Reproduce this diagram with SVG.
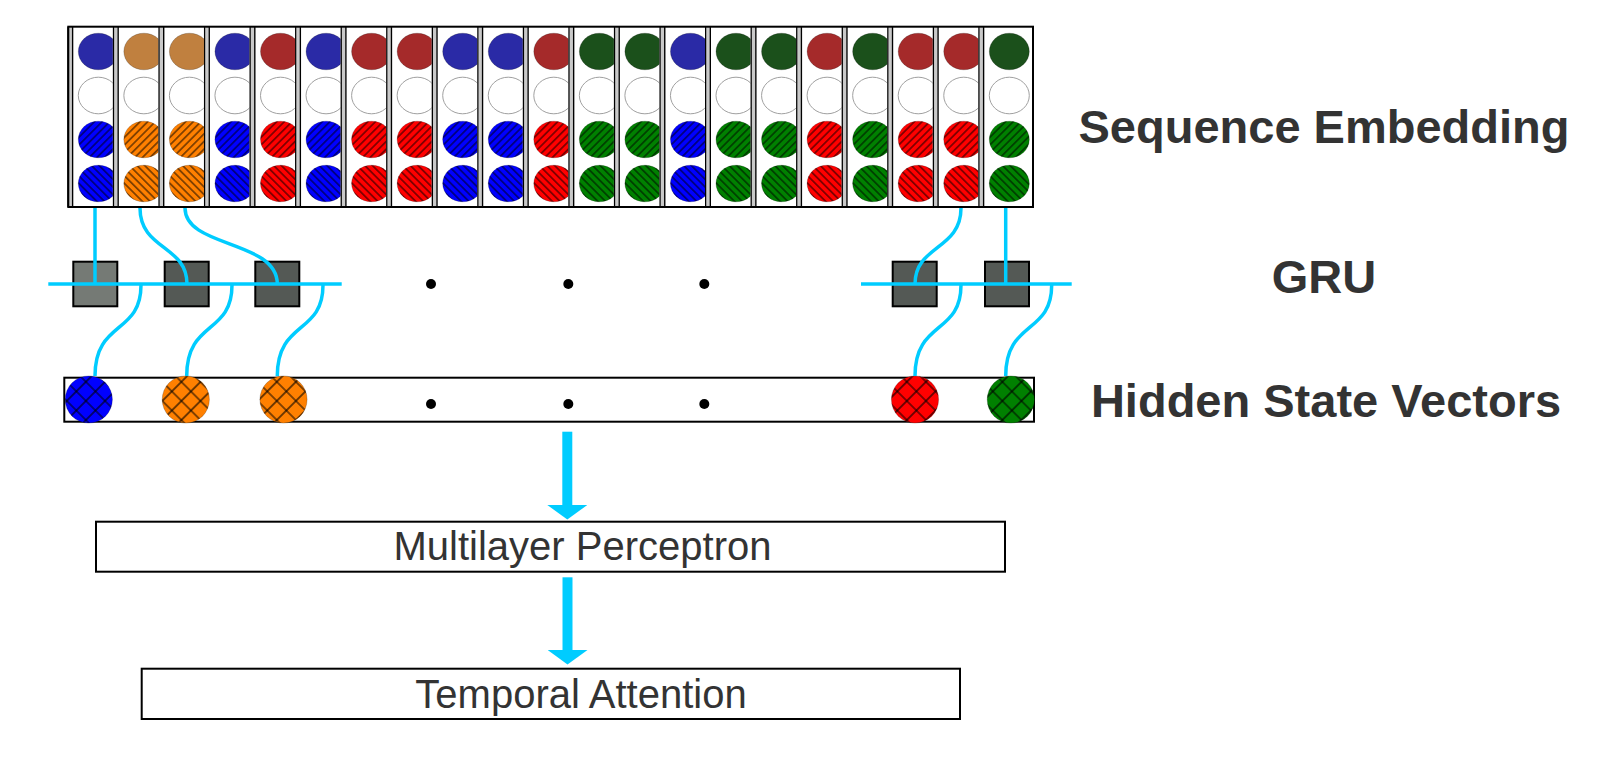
<svg xmlns="http://www.w3.org/2000/svg" xmlns:xlink="http://www.w3.org/1999/xlink" width="1601" height="771" viewBox="0 0 1601 771">
<style>
.cy{stroke:#00ccff;stroke-width:3.5;fill:none}
.ar{stroke:#00ccff;stroke-width:10;fill:none;marker-end:url(#ah)}
.box{fill:#fff;stroke:#000;stroke-width:2}
.gru{stroke:#000;stroke-width:2}
.rim{stroke:#000;stroke-opacity:.25;stroke-width:.8}
.lbl{font-family:"Liberation Sans",Arial,sans-serif;font-weight:bold;font-size:47px;fill:#333;text-anchor:middle}
.txt{font-family:"Liberation Sans",Arial,sans-serif;font-size:40px;fill:#333;text-anchor:middle}
.dot{fill:#000}
</style>
<defs>
<pattern id="hF" patternUnits="userSpaceOnUse" width="5.4" height="5.4" patternTransform="rotate(45)"><line x1="2.7" y1="0" x2="2.7" y2="5.4" stroke="#000" stroke-width="0.9"/></pattern>
<pattern id="hB" patternUnits="userSpaceOnUse" width="5.4" height="5.4" patternTransform="rotate(-45)"><line x1="2.7" y1="0" x2="2.7" y2="5.4" stroke="#000" stroke-width="0.9"/></pattern>
<pattern id="hX" patternUnits="userSpaceOnUse" width="13.5" height="13.5" patternTransform="rotate(45)"><path d="M6.75 0V13.5M0 6.75H13.5" stroke="#000" stroke-width="1.1"/></pattern>
<marker id="ah" viewBox="0 0 14.5 40" refX="0" refY="20" markerWidth="14.5" markerHeight="40" markerUnits="userSpaceOnUse" orient="auto"><polygon points="0,0 14.5,20 0,40" fill="#00ccff"/></marker>
<g id="base">
<rect x="0" y="26.7" width="56" height="180.3" fill="#fff"/>
<rect x="1.3" y="26.7" width="3.3" height="180.3" fill="#c9c9c9"/>
<line x1="0.65" y1="26.7" x2="0.65" y2="207" stroke="#000" stroke-width="1.3"/>
<line x1="5.3" y1="26.7" x2="5.3" y2="207" stroke="#000" stroke-width="1.4"/>
<ellipse cx="31" cy="95.5" rx="20" ry="18.3" fill="#fff" stroke="#a0a0a0" stroke-width="1"/>
</g>
<g id="hat">
<ellipse cx="31" cy="139.5" rx="20" ry="18.3" fill="url(#hF)"/>
<ellipse cx="31" cy="183.5" rx="20" ry="18.3" fill="url(#hB)"/>
</g>
<g id="cB"><use xlink:href="#base"/><ellipse class="rim" cx="31" cy="51.5" rx="20" ry="18.3" fill="#2a2aa6"/><ellipse class="rim" cx="31" cy="139.5" rx="20" ry="18.3" fill="#0000ff"/><ellipse class="rim" cx="31" cy="183.5" rx="20" ry="18.3" fill="#0000ff"/><use xlink:href="#hat"/></g>
<g id="cO"><use xlink:href="#base"/><ellipse class="rim" cx="31" cy="51.5" rx="20" ry="18.3" fill="#c0803f"/><ellipse class="rim" cx="31" cy="139.5" rx="20" ry="18.3" fill="#ff8000"/><ellipse class="rim" cx="31" cy="183.5" rx="20" ry="18.3" fill="#ff8000"/><use xlink:href="#hat"/></g>
<g id="cR"><use xlink:href="#base"/><ellipse class="rim" cx="31" cy="51.5" rx="20" ry="18.3" fill="#a52a2a"/><ellipse class="rim" cx="31" cy="139.5" rx="20" ry="18.3" fill="#ff0000"/><ellipse class="rim" cx="31" cy="183.5" rx="20" ry="18.3" fill="#ff0000"/><use xlink:href="#hat"/></g>
<g id="cG"><use xlink:href="#base"/><ellipse class="rim" cx="31" cy="51.5" rx="20" ry="18.3" fill="#1b501b"/><ellipse class="rim" cx="31" cy="139.5" rx="20" ry="18.3" fill="#008000"/><ellipse class="rim" cx="31" cy="183.5" rx="20" ry="18.3" fill="#008000"/><use xlink:href="#hat"/></g>
</defs>
<rect width="1601" height="771" fill="#fff"/>

<g id="sequence-embedding">
<g id="emb-0" transform="translate(67.3,0)"><use xlink:href="#cB"/></g>
<g id="emb-1" transform="translate(112.85,0)"><use xlink:href="#cO"/></g>
<g id="emb-2" transform="translate(158.4,0)"><use xlink:href="#cO"/></g>
<g id="emb-3" transform="translate(203.95,0)"><use xlink:href="#cB"/></g>
<g id="emb-4" transform="translate(249.5,0)"><use xlink:href="#cR"/></g>
<g id="emb-5" transform="translate(295.05,0)"><use xlink:href="#cB"/></g>
<g id="emb-6" transform="translate(340.6,0)"><use xlink:href="#cR"/></g>
<g id="emb-7" transform="translate(386.15,0)"><use xlink:href="#cR"/></g>
<g id="emb-8" transform="translate(431.7,0)"><use xlink:href="#cB"/></g>
<g id="emb-9" transform="translate(477.25,0)"><use xlink:href="#cB"/></g>
<g id="emb-10" transform="translate(522.8,0)"><use xlink:href="#cR"/></g>
<g id="emb-11" transform="translate(568.35,0)"><use xlink:href="#cG"/></g>
<g id="emb-12" transform="translate(613.9,0)"><use xlink:href="#cG"/></g>
<g id="emb-13" transform="translate(659.45,0)"><use xlink:href="#cB"/></g>
<g id="emb-14" transform="translate(705,0)"><use xlink:href="#cG"/></g>
<g id="emb-15" transform="translate(750.55,0)"><use xlink:href="#cG"/></g>
<g id="emb-16" transform="translate(796.1,0)"><use xlink:href="#cR"/></g>
<g id="emb-17" transform="translate(841.65,0)"><use xlink:href="#cG"/></g>
<g id="emb-18" transform="translate(887.2,0)"><use xlink:href="#cR"/></g>
<g id="emb-19" transform="translate(932.75,0)"><use xlink:href="#cR"/></g>
<g id="emb-20" transform="translate(978.3,0)"><use xlink:href="#cG"/></g>
<rect x="68.3" y="26.7" width="964.7" height="180.3" fill="none" stroke="#000" stroke-width="2"/>
</g>

<g id="gru-cells">
<rect id="gru-1" class="gru" x="73.3" y="261.7" width="44" height="44.6" fill="#757a75"/>
<rect id="gru-2" class="gru" x="164.7" y="261.7" width="44" height="44.6" fill="#545955"/>
<rect id="gru-3" class="gru" x="255.3" y="261.7" width="44" height="44.6" fill="#545955"/>
<rect id="gru-4" class="gru" x="892.7" y="261.7" width="44" height="44.6" fill="#545955"/>
<rect id="gru-5" class="gru" x="985" y="261.7" width="44" height="44.6" fill="#545955"/>
<circle class="dot" cx="431" cy="284" r="5"/>
<circle class="dot" cx="568.3" cy="284" r="5"/>
<circle class="dot" cx="704.3" cy="284" r="5"/>
</g>

<g id="hidden-states">
<rect class="box" x="64.3" y="377.7" width="969.7" height="44"/>
<g id="h-1"><circle class="rim" cx="88.8" cy="399.5" r="23.6" fill="#0000ff"/><circle cx="88.8" cy="399.5" r="23.6" fill="url(#hX)"/></g>
<g id="h-2"><circle class="rim" cx="185.8" cy="399.5" r="23.6" fill="#ff8000"/><circle cx="185.8" cy="399.5" r="23.6" fill="url(#hX)"/></g>
<g id="h-3"><circle class="rim" cx="283.5" cy="399.5" r="23.6" fill="#ff8000"/><circle cx="283.5" cy="399.5" r="23.6" fill="url(#hX)"/></g>
<g id="h-4"><circle class="rim" cx="915" cy="399.5" r="23.6" fill="#ff0000"/><circle cx="915" cy="399.5" r="23.6" fill="url(#hX)"/></g>
<g id="h-5"><circle class="rim" cx="1010.8" cy="399.5" r="23.6" fill="#008000"/><circle cx="1010.8" cy="399.5" r="23.6" fill="url(#hX)"/></g>
<circle class="dot" cx="431" cy="404" r="5"/>
<circle class="dot" cx="568.3" cy="404" r="5"/>
<circle class="dot" cx="704.3" cy="404" r="5"/>
</g>

<g id="mlp">
<rect class="box" x="96" y="521.7" width="909" height="50"/>
<text class="txt" x="582.5" y="560">Multilayer Perceptron</text>
</g>

<g id="temporal-attention">
<rect class="box" x="141.7" y="668.7" width="818.3" height="50.3"/>
<text class="txt" x="581" y="707.7">Temporal Attention</text>
</g>

<g id="labels">
<text class="lbl" x="1324" y="143.3">Sequence Embedding</text>
<text class="lbl" x="1324" y="293.3">GRU</text>
<text class="lbl" x="1326" y="416.7">Hidden State Vectors</text>
</g>

<g id="connectors">
<path class="cy" d="M48.3 284H341.7"/>
<path class="cy" d="M861 284H1071.7"/>
<path class="cy" d="M95 208V284"/>
<path class="cy" d="M140 208C140 250 187 245 187 284"/>
<path class="cy" d="M185 208C185 248 277.3 240 277.3 284"/>
<path class="cy" d="M961 208C961 250 915 245 915 284"/>
<path class="cy" d="M1005.7 208V284"/>
<path class="cy" d="M141 285C141 335 95 320 95 376"/>
<path class="cy" d="M232 285C232 335 186.7 320 186.7 376"/>
<path class="cy" d="M323 285C323 335 277.3 320 277.3 376"/>
<path class="cy" d="M961 285C961 335 915 320 915 376"/>
<path class="cy" d="M1051.7 285C1051.7 335 1005.7 320 1005.7 376"/>
<path class="ar" d="M567.3 431.7V505"/>
<path class="ar" d="M567.5 577.3V650"/>
</g>
</svg>
